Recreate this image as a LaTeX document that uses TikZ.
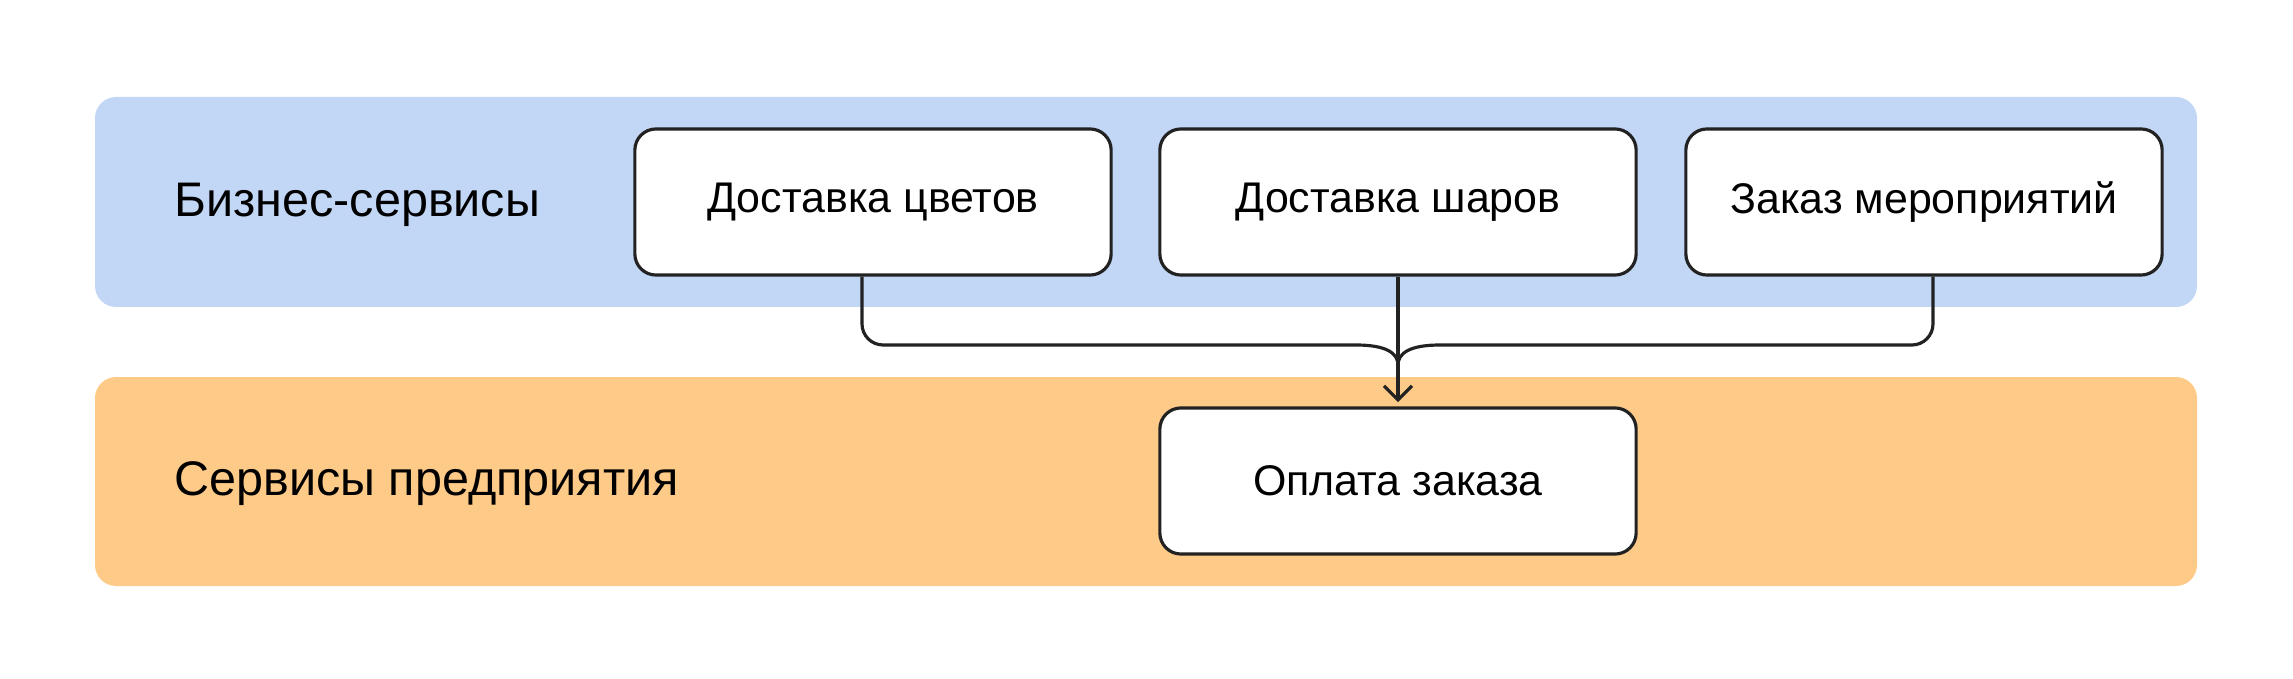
\documentclass[tikz,border=0pt]{standalone}
\usepackage{fontspec}
\setmainfont{Liberation Sans}
\usetikzlibrary{calc,arrows.meta}

\definecolor{bizblue}{HTML}{C2D6F6}
\definecolor{entorange}{HTML}{FDCA88}
\definecolor{ink}{HTML}{222222}

\begin{document}
\begin{tikzpicture}[x=0.01cm,y=-0.01cm,
    svc/.style={draw=ink,line width=0.9pt,fill=white,rounded corners=6pt,
      minimum width=4.76cm,minimum height=1.46cm,font=\fontsize{12.2}{14}\selectfont},
    tier/.style={anchor=west,font=\fontsize{13.8}{16}\selectfont},
    conn/.style={draw=ink,line width=0.9pt}]
  \useasboundingbox (0,0) rectangle (2293,679);
  % the two layers
  \fill[bizblue,rounded corners=6pt] (95,97) rectangle (2197,307);
  \fill[entorange,rounded corners=6pt] (95,377) rectangle (2197,586);
  \node[tier] (biz) at (162,205) {Бизнес-сервисы};
  \node[tier] (ent) at (162,484) {Сервисы предприятия};

  \node[svc] (flowers) at (873,202) {\raisebox{-2pt}{Доставка цветов}};
  \node[svc] (balloons) at (1398,202) {\raisebox{-2pt}{Доставка шаров}};
  \node[svc] (events) at (1924,202) {\raisebox{-2pt}{Заказ мероприятий}};
  \node[svc] (payment) at (1398,481) {\raisebox{-2pt}{Оплата заказа}};

  \coordinate (merge) at (1398,365);
  \coordinate (lbend) at (1356,345);
  \coordinate (rbend) at (1440,345);
  \draw[conn,rounded corners=6pt] ($(flowers.south)+(-11,0)$) |- (lbend);
  \draw[conn] (lbend) .. controls +(30,0) and +(0,-12) .. (merge);
  \draw[conn,rounded corners=6pt] ($(events.south)+(9,0)$) |- (rbend);
  \draw[conn] (rbend) .. controls +(-30,0) and +(0,-12) .. (merge);
  \draw[conn,-{Straight Barb[length=4pt,width=8pt]},shorten >=1.2pt] (balloons.south) -- (payment.north);
\end{tikzpicture}
\end{document}
